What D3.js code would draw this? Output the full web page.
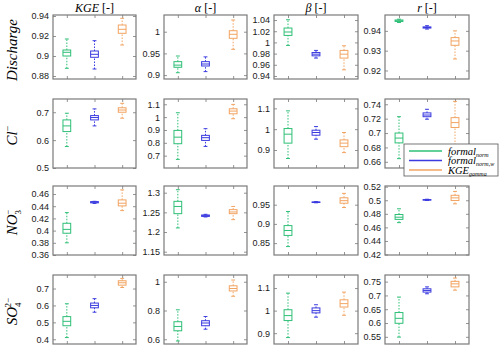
<!DOCTYPE html>
<html>
<head>
<meta charset="utf-8">
<script src="https://cdn.jsdelivr.net/npm/d3@7"></script>
<style>
  body { margin: 0; background: #fff; }
  .tick-label { font-family: "Liberation Sans", Arial, sans-serif; font-size: 9px; fill: #1a1a1a; }
  .serif { font-family: "Liberation Serif", "DejaVu Serif", serif; fill: #000; }
</style>
</head>
<body>
<div id="chart"></div>
<script>
const width = 500, height = 348;

// series (one box per series in every panel)
const seriesNames = ["formal_norm", "formal_norm,w", "KGE_gamma"];
const metrics = ["KGE", "α", "β", "r"];
const variables = ["Discharge", "Cl", "NO3", "SO4"];

// box stats per panel: [lowerWhisker, q1, median, q3, upperWhisker] for each series
const dischargeBoxes = [
  [[0.8877, 0.900, 0.9037, 0.906, 0.917], [0.887, 0.8987, 0.9017, 0.905, 0.9153], [0.911, 0.9227, 0.9267, 0.931, 0.9377]],
  [[0.9055, 0.918, 0.923, 0.931, 0.944], [0.908, 0.921, 0.9256, 0.931, 0.942], [0.9594, 0.9848, 0.994, 1.0023, 1.027]],
  [[0.9946, 1.0125, 1.0186, 1.0257, 1.0405], [0.972, 0.976, 0.979, 0.982, 0.9857], [0.951, 0.972, 0.979, 0.9857, 0.994]],
  [[0.9442, 0.9447, 0.9451, 0.9455, 0.9459], [0.9409, 0.9414, 0.9417, 0.942, 0.9426], [0.9258, 0.9327, 0.9349, 0.9366, 0.94]]
];
const chlorideBoxes = [
  [[0.577, 0.6307, 0.651, 0.6725, 0.6964], [0.651, 0.6725, 0.681, 0.688, 0.712], [0.6786, 0.70, 0.708, 0.716, 0.732]],
  [[0.671, 0.793, 0.844, 0.8965, 1.034], [0.772, 0.8187, 0.84, 0.858, 0.91], [0.9875, 1.026, 1.047, 1.065, 1.099]],
  [[0.859, 0.933, 0.976, 1.003, 1.088], [0.952, 0.971, 0.984, 0.995, 1.0125], [0.8875, 0.916, 0.933, 0.9486, 0.984]],
  [[0.6644, 0.6863, 0.693, 0.70, 0.7227], [0.7192, 0.7227, 0.725, 0.728, 0.733], [0.675, 0.7077, 0.7145, 0.7214, 0.744]]
];
const nitrateBoxes = [
  [[0.380, 0.3957, 0.402, 0.412, 0.4295], [0.4445, 0.4455, 0.4466, 0.4475, 0.448], [0.4328, 0.4405, 0.4449, 0.4503, 0.4667]],
  [[1.2104, 1.2467, 1.265, 1.278, 1.3076], [1.2383, 1.2397, 1.2416, 1.2433, 1.245], [1.2315, 1.2467, 1.251, 1.2569, 1.265]],
  [[0.841, 0.870, 0.8828, 0.8956, 0.9323], [0.955, 0.9557, 0.9564, 0.9571, 0.958], [0.9426, 0.9538, 0.9605, 0.968, 0.9795]],
  [[0.467, 0.4718, 0.475, 0.479, 0.4874], [0.4996, 0.5002, 0.5006, 0.501, 0.5015], [0.4947, 0.4996, 0.5035, 0.5073, 0.513]]
];
const sulfateBoxes = [
  [[0.41, 0.48, 0.506, 0.534, 0.61], [0.56, 0.586, 0.60, 0.614, 0.64], [0.706, 0.72, 0.734, 0.746, 0.76]],
  [[0.588, 0.659, 0.689, 0.722, 0.805], [0.67, 0.694, 0.713, 0.729, 0.758], [0.899, 0.936, 0.953, 0.972, 1.012]],
  [[0.8805, 0.956, 0.978, 1.004, 1.0775], [0.971, 0.99, 1.0, 1.012, 1.026], [0.9795, 1.016, 1.031, 1.048, 1.082]],
  [[0.549, 0.599, 0.617, 0.638, 0.694], [0.706, 0.712, 0.718, 0.724, 0.731], [0.719, 0.731, 0.742, 0.751, 0.763]]
];
const allBoxes = [dischargeBoxes, chlorideBoxes, nitrateBoxes, sulfateBoxes];

// y limits of each panel
const yDomains = [
  [[0.877, 0.941], [0.891, 1.0385], [0.9346, 1.049], [0.9157, 0.948]],
  [[0.5, 0.7475], [0.604, 1.141], [0.8135, 1.145], [0.6514, 0.7473]],
  [[0.36, 0.4731], [1.1416, 1.317], [0.819, 0.9987], [0.4193, 0.521]],
  [[0.372, 0.78], [0.567, 1.047], [0.852, 1.158], [0.524, 0.774]]
];
// y tick values of each panel
const yTicks = [
  [[0.88, 0.9, 0.92, 0.94], [0.9, 0.95, 1], [0.94, 0.96, 0.98, 1, 1.02, 1.04], [0.92, 0.93, 0.94]],
  [[0.5, 0.6, 0.7], [0.7, 0.8, 0.9, 1, 1.1], [0.9, 1, 1.1], [0.66, 0.68, 0.7, 0.72, 0.74]],
  [[0.36, 0.38, 0.4, 0.42, 0.44, 0.46], [1.15, 1.2, 1.25, 1.3], [0.85, 0.9, 0.95], [0.42, 0.44, 0.46, 0.48, 0.5, 0.52]],
  [[0.4, 0.5, 0.6, 0.7], [0.6, 0.8, 1], [0.9, 1, 1.1], [0.55, 0.6, 0.65, 0.7, 0.75]]
];

const colors = ["#2fbf77", "#3b3be0", "#f2a462"];
const colX = [53, 164, 274, 385];
const colW = [83, 83, 84, 84];
const rowY = [15, 99, 186, 275];
const rowH = [64, 69, 69, 69];

const svg = d3.select("#chart").append("svg")
  .attr("width", width).attr("height", height);

const fmt = v => String(+v.toFixed(4));

allBoxes.forEach((rowBoxes, ri) => {
  rowBoxes.forEach((boxes, ci) => {
    const g = svg.append("g")
      .attr("transform", `translate(${colX[ci]},${rowY[ri]})`);
    const w = colW[ci], h = rowH[ri];
    const x = d3.scaleLinear().domain([0.5, 3.5]).range([0, w]);
    const y = d3.scaleLinear().domain(yDomains[ri][ci]).range([h, 0]);

    // ticks (inward on all four sides)
    const left = d3.axisLeft(y).tickValues(yTicks[ri][ci]).tickSize(-3).tickPadding(4).tickFormat(fmt);
    const right = d3.axisRight(y).tickValues(yTicks[ri][ci]).tickSize(-3).tickFormat("");
    const bottom = d3.axisBottom(x).tickValues([1, 2, 3]).tickSize(-3).tickFormat("");
    const top = d3.axisTop(x).tickValues([1, 2, 3]).tickSize(-3).tickFormat("");

    const la = g.append("g").call(left);
    la.selectAll("text").attr("class", "tick-label").attr("fill", null);
    g.append("g").attr("transform", `translate(${w},0)`).call(right);
    g.append("g").attr("transform", `translate(0,${h})`).call(bottom);
    g.append("g").call(top);
    g.selectAll(".domain").remove();
    g.selectAll(".tick line").attr("stroke", "#666").attr("stroke-width", 0.7);

    g.append("rect")
      .attr("width", w).attr("height", h)
      .attr("fill", "none").attr("stroke", "#7a7a7a").attr("stroke-width", 1.2);

    const half = 0.14, cap = 0.07;
    const bx = g.selectAll("g.box").data(boxes).join("g").attr("class", "box")
      .attr("stroke", (d, i) => colors[i]).attr("fill", "none");

    // whiskers
    bx.append("line")
      .attr("x1", (d, i) => x(i + 1)).attr("x2", (d, i) => x(i + 1))
      .attr("y1", d => y(d[3])).attr("y2", d => y(d[4]))
      .attr("stroke-width", 1).attr("stroke-dasharray", "1.5,1.5");
    bx.append("line")
      .attr("x1", (d, i) => x(i + 1)).attr("x2", (d, i) => x(i + 1))
      .attr("y1", d => y(d[0])).attr("y2", d => y(d[1]))
      .attr("stroke-width", 1).attr("stroke-dasharray", "1.5,1.5");
    // caps
    [0, 4].forEach(k => {
      bx.append("line")
        .attr("x1", (d, i) => x(i + 1 - cap)).attr("x2", (d, i) => x(i + 1 + cap))
        .attr("y1", d => y(d[k])).attr("y2", d => y(d[k]))
        .attr("stroke-width", 1);
    });
    // box
    bx.append("rect")
      .attr("x", (d, i) => x(i + 1 - half))
      .attr("y", d => y(d[3]))
      .attr("width", x(1 + half) - x(1 - half))
      .attr("height", d => Math.max(0.5, y(d[1]) - y(d[3])))
      .attr("stroke-width", 1);
    // median
    bx.append("line")
      .attr("x1", (d, i) => x(i + 1 - half)).attr("x2", (d, i) => x(i + 1 + half))
      .attr("y1", d => y(d[2])).attr("y2", d => y(d[2]))
      .attr("stroke-width", 1);

    // column titles
    if (ri === 0) {
      const t = svg.append("text").attr("class", "serif")
        .attr("x", colX[ci] + w / 2).attr("y", 12)
        .attr("text-anchor", "middle").attr("font-size", 12);
      t.append("tspan").attr("font-style", "italic").text(metrics[ci]);
      t.append("tspan").text(" [-]");
    }
  });

  // row labels
  const cy = rowY[ri] + rowH[ri] / 2;
  const lab = svg.append("text").attr("class", "serif")
    .attr("transform", `translate(17,${cy + (ri === 0 ? 3 : 2)}) rotate(-90)`)
    .attr("text-anchor", "middle").attr("font-size", 15).attr("font-style", "italic");
  if (ri === 0) {
    lab.text(variables[0]);
  } else {
    const base = ri === 1 ? "Cl" : ri === 2 ? "NO" : "SO";
    lab.append("tspan").text(base);
    if (ri === 1) {
      lab.append("tspan").attr("dy", -6).attr("font-size", 10).attr("font-style", "normal").text("−");
    } else {
      const sub = ri === 2 ? "3" : "4";
      const sup = ri === 2 ? "−" : "2−";
      lab.append("tspan").attr("dy", 4).attr("font-size", 9).attr("font-style", "normal").text(sub);
      lab.append("tspan").attr("dx", -5).attr("dy", -10).attr("font-size", 9).attr("font-style", "normal").text(sup);
    }
  }
});

// legend
const legend = svg.append("g").attr("transform", "translate(404,144)");
legend.append("rect").attr("width", 94).attr("height", 32)
  .attr("fill", "#fff").attr("stroke", "#555").attr("stroke-width", 0.8);
const legendLabels = [["formal", "norm"], ["formal", "norm,w"], ["KGE", "gamma"]];
legendLabels.forEach((lbl, i) => {
  const ly = 7 + i * 9.5;
  legend.append("path")
    .attr("d", `M5,${ly}H38`)
    .style("stroke", colors[i]).style("stroke-width", "1.3px").style("fill", "none");
  const t = legend.append("text").attr("class", "serif")
    .attr("x", 44).attr("y", ly + 3.5).attr("font-size", 10.5).attr("font-style", "italic");
  t.append("tspan").text(lbl[0]);
  t.append("tspan").attr("dy", 2).attr("font-size", 6).text(lbl[1]);
});
</script>
</body>
</html>
